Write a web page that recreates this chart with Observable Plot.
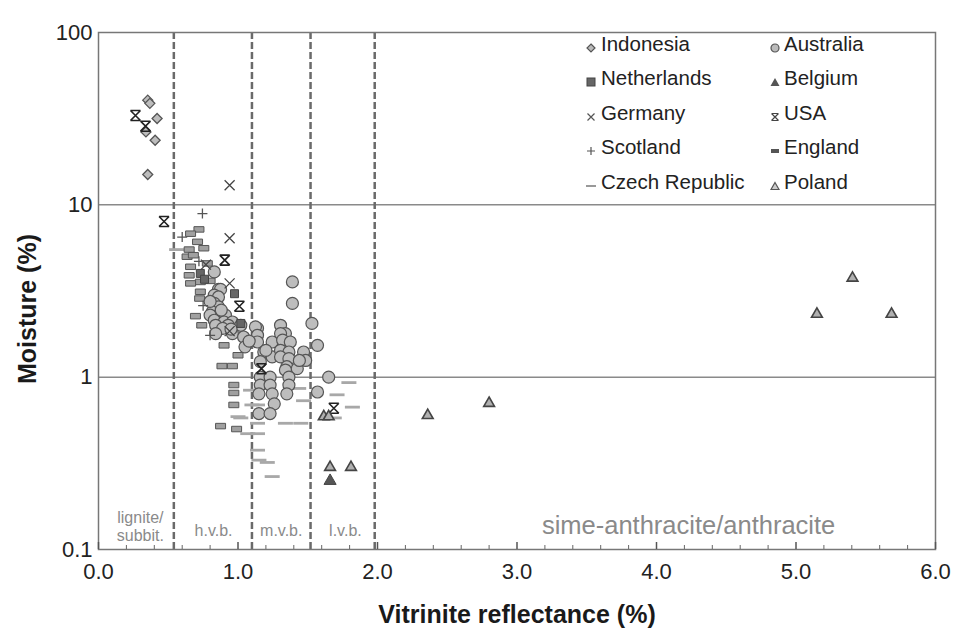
<!DOCTYPE html>
<html>
<head>
<meta charset="utf-8">
<script src="https://cdn.jsdelivr.net/npm/d3@7"></script>
<script src="https://cdn.jsdelivr.net/npm/@observablehq/plot@0.6"></script>
<style>
  body { margin: 0; background: white; }
  #wrap { position: relative; width: 955px; height: 628px; font-family: "Liberation Sans", Arial, Helvetica, sans-serif; }
  #wrap svg.plot { position: absolute; left: 0; top: 0; }
  g[aria-label="x-axis label"] text { font-size: 25px; font-weight: bold; fill: #1a1a1a; }
  #legend { position: absolute; left: 0; top: 0; width: 955px; height: 628px; pointer-events: none; }
  .li { position: absolute; font-size: 20.5px; color: #222; line-height: 24px; white-space: nowrap; }
  .lm { position: absolute; }
</style>
</head>
<body>
<div id="wrap"><div id="legend"></div></div>
<script>
// ---------- data (x = vitrinite reflectance %, y = moisture %) ----------
const indonesia = [[0.353,40.5],[0.368,38.8],[0.42,31.7],[0.406,23.7],[0.353,15.0],[0.34,26.5]];
const australia = [
  [0.83,4.08],[0.86,3.23],[0.875,3.23],[0.83,2.99],[0.86,2.92],[0.83,2.68],[0.86,2.56],[0.815,2.39],
  [0.86,2.29],[0.91,2.29],[0.80,2.29],[0.83,2.14],[0.90,2.09],[0.96,2.09],[1.02,2.0],[0.84,2.0],
  [0.93,2.0],[0.89,1.92],[1.14,1.92],[0.84,1.79],[0.96,1.79],[1.04,1.71],[1.125,1.96],[1.14,1.75],
  [1.14,1.60],[1.05,1.50],[1.245,1.60],[1.305,2.0],[1.34,1.79],[1.305,1.79],[1.32,1.64],[1.375,1.60],
  [1.185,1.40],[1.245,1.31],[1.305,1.43],[1.365,1.40],[1.305,1.31],[1.365,1.28],[1.47,1.40],[1.485,1.25],
  [1.16,1.23],[1.35,1.15],[1.425,1.12],[1.34,1.10],[1.16,1.0],[1.23,1.0],[1.365,1.0],[1.16,0.90],
  [1.23,0.90],[1.365,0.90],[1.15,0.80],[1.245,0.80],[1.35,0.80],[1.26,0.70],[1.15,0.615],[1.23,0.615],
  [1.39,2.68],[1.39,3.57],[1.53,2.05],[1.57,1.53],[1.65,1.0],[1.57,0.82],[1.20,1.43],[1.44,1.25],
  [0.80,2.75],[0.88,2.45],[0.95,1.90],[1.08,1.62]
];
const netherlands = [[0.73,4.0],[0.76,3.7],[0.975,3.05],[1.02,2.05]];
const belgium = [[1.66,0.25]];
const germany = [[0.94,13.0],[0.94,6.4],[0.94,3.5],[0.94,1.85],[0.77,4.5]];
const usa = [[0.265,33],[0.337,28.6],[0.47,8.0],[0.905,4.78],[1.01,2.58],[1.168,1.12],[1.687,0.66]];
const scotland = [[0.745,8.9],[0.60,6.5],[0.72,4.7],[0.80,1.75],[0.75,2.6]];
const england = [
  [0.72,7.2],[0.66,6.8],[0.71,6.1],[0.755,5.6],[0.65,5.5],[0.635,5.0],[0.68,5.1],[0.78,4.57],
  [0.66,4.37],[0.65,3.9],[0.80,3.62],[0.73,3.57],[0.66,3.5],[0.73,3.13],[0.725,2.86],[0.695,2.26],
  [0.74,2.0],[0.90,1.53],[1.0,1.34],[0.885,1.16],[0.96,1.16],[0.97,0.90],[0.97,0.81],[0.97,0.69],
  [0.875,0.52],[0.99,0.50]
];
const czech = [
  [0.56,5.5],[1.435,0.86],[1.795,0.93],[1.71,0.79],[1.82,0.67],[1.69,0.58],[1.47,0.73],[1.34,0.54],
  [1.45,0.54],[1.14,0.69],[1.14,0.54],[1.07,0.47],[1.14,0.47],[1.14,0.377],[1.15,0.33],[1.21,0.32],
  [1.245,0.265],[1.09,0.84],[1.02,0.58],[1.10,0.69],[1.0,0.59]
];
const poland = [[1.615,0.59],[1.65,0.59],[1.66,0.30],[1.81,0.30],[2.36,0.60],[2.80,0.706],[5.15,2.32],[5.405,3.76],[5.685,2.32]];

const rankBounds = [0.54, 1.1, 1.52, 1.98];
const gridY = [1, 10];
const xMajor = [0, 1, 2, 3, 4, 5, 6];
const xMinor = [0.2,0.4,0.6,0.8,1.2,1.4,1.6,1.8,2.2,2.4,2.6,2.8,3.2,3.4,3.6,3.8,4.2,4.4,4.6,4.8,5.2,5.4,5.6,5.8];
const yMin = 0.1, yMax = 100;
const yTicks = [0.1, 1, 10, 100];
const yTickLabels = ["0.1", "1", "10", "100"];
const yLabel = ["Moisture (%)"];
const zoneLabels = [
  {x: 0.30, y: 0.136, text: "lignite/\nsubbit.", size: 16},
  {x: 0.825, y: 0.129, text: "h.v.b.", size: 16},
  {x: 1.31, y: 0.129, text: "m.v.b.", size: 16},
  {x: 1.77, y: 0.129, text: "l.v.b.", size: 16},
  {x: 4.23, y: 0.138, text: "sime-anthracite/anthracite", size: 25.5}
];

// ---------- custom symbols ----------
const symDash = { draw(ctx, size) { const r = Math.sqrt(size / Math.PI); ctx.rect(-1.5*r, -0.28*r, 3*r, 0.56*r); } };
const symBox = { draw(ctx, size) { const r = Math.sqrt(size / Math.PI); ctx.rect(-r, -0.55*r, 2*r, 1.1*r); } };
const symRhomb = { draw(ctx, size) { const r = Math.sqrt(size / Math.PI);
  ctx.moveTo(0,-r); ctx.lineTo(r,0); ctx.lineTo(0,r); ctx.lineTo(-r,0); ctx.closePath(); } };
const symUSA = { draw(ctx, size) { const a = Math.sqrt(size / Math.PI);
  ctx.moveTo(-a,-a); ctx.lineTo(a,a); ctx.moveTo(a,-a); ctx.lineTo(-a,a);
  ctx.moveTo(-a,-a); ctx.lineTo(a,-a); ctx.moveTo(-a,a); ctx.lineTo(a,a); } };
const symTimes = { draw(ctx, size) { const a = Math.sqrt(size / Math.PI);
  ctx.moveTo(-a,-a); ctx.lineTo(a,a); ctx.moveTo(a,-a); ctx.lineTo(-a,a); } };
const symPlus = { draw(ctx, size) { const a = Math.sqrt(size / Math.PI);
  ctx.moveTo(-a,0); ctx.lineTo(a,0); ctx.moveTo(0,-a); ctx.lineTo(0,a); } };

const X = d => d[0], Y = d => d[1];

const chart = Plot.plot({
  width: 955, height: 628,
  marginLeft: 98, marginRight: 20, marginTop: 32, marginBottom: 79,
  x: {domain: [0, 6]},
  y: {type: "log", domain: [yMin, yMax]},
  style: {fontFamily: "'Liberation Sans', Arial, Helvetica, sans-serif", fontSize: "21px", color: "#222", background: "white", overflow: "visible"},
  marks: [
    Plot.ruleY(gridY, {stroke: "#8a8a8a", strokeWidth: 1.5}),
    Plot.ruleX(rankBounds, {stroke: "#6a6a6a", strokeWidth: 2.5, strokeDasharray: "7,3"}),
    Plot.frame({stroke: "#777", strokeWidth: 1.5}),
    Plot.axisY({ticks: yTicks, tickFormat: d => yTickLabels[yTicks.indexOf(d)], tickSize: 0, tickPadding: 6, fontSize: 22, label: null}),
    Plot.text(yLabel, {frameAnchor: "left", textAnchor: "middle", rotate: -90, dx: -71, dy: 18, fontSize: 25, fontWeight: "bold", fill: "#1a1a1a"}),
    Plot.axisX({ticks: xMajor, tickFormat: d => d.toFixed(1), tickSize: 0, tickPadding: 14, fontSize: 22,
      label: "Vitrinite reflectance (%)", labelAnchor: "center", labelOffset: 73, labelArrow: "none"}),
    Plot.axisX({ticks: xMajor, tickFormat: () => "", tickSize: 7, dy: -7, stroke: "#555", strokeWidth: 1.5, label: null}),
    Plot.axisX({ticks: xMinor, tickFormat: () => "", tickSize: 4, dy: -4, stroke: "#666", strokeWidth: 1, label: null}),
    Plot.text(zoneLabels, {x: "x", y: "y", text: "text", fontSize: "size", fill: "#8a8a8a", lineHeight: 1.1}),
    Plot.dot(czech, {x: X, y: Y, symbol: symDash, r: 5, fill: "#a8a8a8", stroke: "none"}),
    Plot.dot(england, {x: X, y: Y, symbol: symBox, r: 5, fill: "#a0a0a0", stroke: "#555", strokeWidth: 1}),
    Plot.dot(australia, {x: X, y: Y, symbol: "circle", r: 6, fill: "#bdbdbd", stroke: "#555", strokeWidth: 1.2}),
    Plot.dot(netherlands, {x: X, y: Y, symbol: "square", r: 4.5, fill: "#666", stroke: "#444", strokeWidth: 1}),
    Plot.dot(indonesia, {x: X, y: Y, symbol: symRhomb, r: 5, fill: "#bdbdbd", stroke: "#555", strokeWidth: 1.3}),
    Plot.dot(germany, {x: X, y: Y, symbol: symTimes, r: 5, fill: "none", stroke: "#444", strokeWidth: 1.3}),
    Plot.dot(scotland, {x: X, y: Y, symbol: symPlus, r: 5, fill: "none", stroke: "#555", strokeWidth: 1.3}),
    Plot.dot(usa, {x: X, y: Y, symbol: symUSA, r: 5, fill: "none", stroke: "#222", strokeWidth: 1.6}),
    Plot.dot(belgium, {x: X, y: Y, symbol: "triangle", r: 4.5, fill: "#555", stroke: "#444", strokeWidth: 1}),
    Plot.dot(poland, {x: X, y: Y, symbol: "triangle", r: 4, fill: "#b0b0b0", stroke: "#444", strokeWidth: 1.6})
  ]
});
chart.classList.add("plot");
document.getElementById("wrap").prepend(chart);

// ---------- legend ----------
const legendItems = [
  {name: "Indonesia", col: 0, row: 0, icon: '<path d="M5,1 L9,5 L5,9 L1,5 Z" fill="#bbb" stroke="#555" stroke-width="1.2"/>'},
  {name: "Netherlands", col: 0, row: 1, icon: '<rect x="1" y="1" width="8" height="8" fill="#666" stroke="#444"/>'},
  {name: "Germany", col: 0, row: 2, icon: '<path d="M1.5,1.5 L8.5,8.5 M8.5,1.5 L1.5,8.5" stroke="#555" stroke-width="1.2"/>'},
  {name: "Scotland", col: 0, row: 3, icon: '<path d="M1,5 L9,5 M5,1 L5,9" stroke="#555" stroke-width="1.2"/>'},
  {name: "Czech Republic", col: 0, row: 4, icon: '<rect x="0" y="4" width="10" height="2" fill="#999"/>'},
  {name: "Australia", col: 1, row: 0, icon: '<circle cx="5" cy="5" r="4" fill="#bbb" stroke="#555" stroke-width="1.2"/>'},
  {name: "Belgium", col: 1, row: 1, icon: '<path d="M5,1 L9.5,9 L0.5,9 Z" fill="#555"/>'},
  {name: "USA", col: 1, row: 2, icon: '<path d="M1.5,1.5 L8.5,8.5 M8.5,1.5 L1.5,8.5 M1.5,1.5 L8.5,1.5 M1.5,8.5 L8.5,8.5" stroke="#444" stroke-width="1.2"/>'},
  {name: "England", col: 1, row: 3, icon: '<rect x="1" y="3" width="8" height="4" fill="#555"/>'},
  {name: "Poland", col: 1, row: 4, icon: '<path d="M5,1.5 L9,8.5 L1,8.5 Z" fill="#ccc" stroke="#555" stroke-width="1.2"/>'}
];
const colMarkerX = [591, 775];
const colTextX = [601, 784];
const rowY = [44, 78, 113, 147, 182];
const leg = document.getElementById("legend");
for (const it of legendItems) {
  const m = document.createElement("div");
  m.className = "lm";
  m.style.left = (colMarkerX[it.col] - 5) + "px";
  m.style.top = (rowY[it.row] - 5) + "px";
  m.innerHTML = '<svg width="10" height="10" viewBox="0 0 10 10">' + it.icon + '</svg>';
  leg.appendChild(m);
  const t = document.createElement("div");
  t.className = "li";
  t.style.left = colTextX[it.col] + "px";
  t.style.top = (rowY[it.row] - 12) + "px";
  t.textContent = it.name;
  leg.appendChild(t);
}
</script>
</body>
</html>
